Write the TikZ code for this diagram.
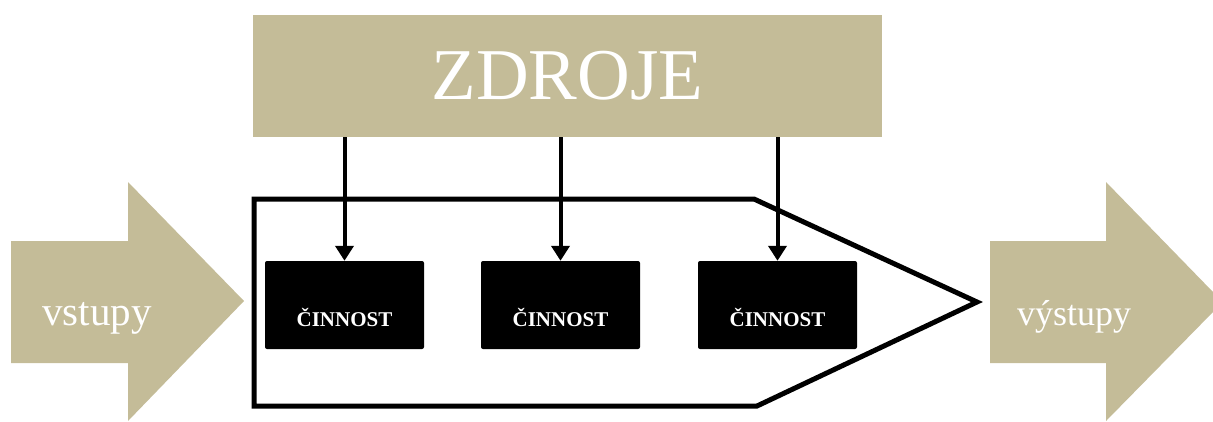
\documentclass[tikz,border=0pt]{standalone}
\usepackage{fontspec}
\setmainfont{Liberation Serif}
\usetikzlibrary{arrows.meta}
\definecolor{tan}{RGB}{196,188,152}
\begin{document}
\begin{tikzpicture}[x=1pt,y=-1pt,
  actbox/.style={fill=black,draw=none,rounded corners=2pt,minimum width=159pt,minimum height=88pt,inner sep=0pt,
    text=white,font=\bfseries\fontsize{21}{21}\selectfont,text depth=0pt},
  feed/.style={line width=4pt,-{Triangle[length=15pt,width=18pt]}},
  label/.style={text=white,anchor=base}]
  \useasboundingbox (0,0) rectangle (1213,421);
  % resources bar
  \node[fill=tan,minimum width=629pt,minimum height=122pt,inner sep=0pt,text=white,
        font=\fontsize{73}{73}\selectfont] (zdroje) at (567.5,76) {ZDROJE};
  % input and output block arrows
  \fill[tan] (11,241) -- (128,241) -- (128,182) -- (244,301) -- (128,421) -- (128,363) -- (11,363) -- cycle;
  \node[label,font=\fontsize{41}{41}\selectfont] (in) at (97,325) {vstupy};
  \fill[tan] (990,241) -- (1106,241) -- (1106,182) -- (1213,292) -- (1213,312) -- (1106,421) -- (1106,363) -- (990,363) -- cycle;
  \node[label,font=\fontsize{36}{36}\selectfont] (out) at (1074,325) {výstupy};
  % process outline
  \draw[line width=5pt,line join=miter] (254,199) -- (754,199) -- (977,302) -- (757,406) -- (254,406) -- cycle;
  % activities
  \node[actbox] (a1) at (344.5,305) {\raisebox{-21pt}{ČINNOST}};
  \node[actbox] (a2) at (560.5,305) {\raisebox{-21pt}{ČINNOST}};
  \node[actbox] (a3) at (777.5,305) {\raisebox{-21pt}{ČINNOST}};
  % resource feeds
  \draw[feed] (zdroje.south -| a1.north) -- (a1.north);
  \draw[feed] (zdroje.south -| a2.north) -- (a2.north);
  \draw[feed] (zdroje.south -| a3.north) -- (a3.north);
\end{tikzpicture}
\end{document}
